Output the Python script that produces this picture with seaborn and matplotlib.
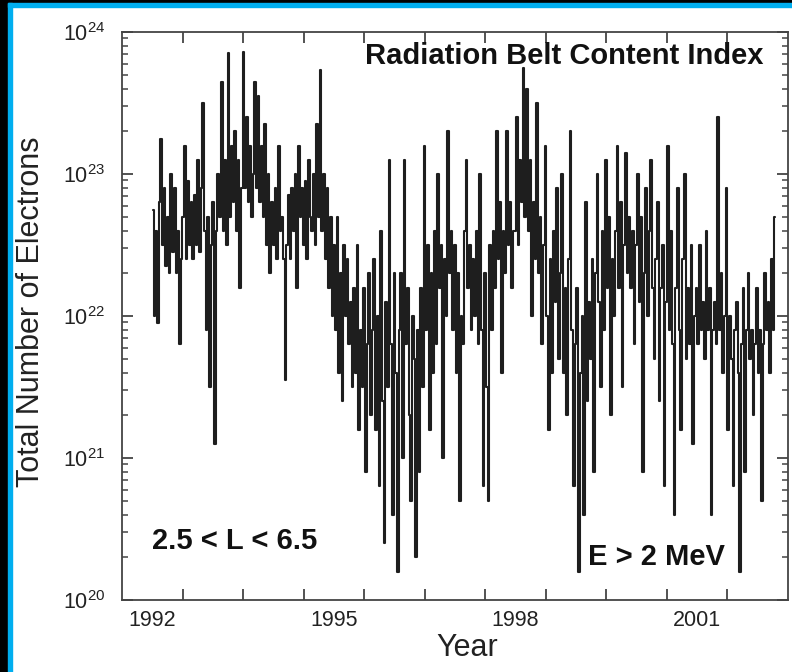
import numpy as np
import pandas as pd
import matplotlib
matplotlib.use("Agg")
import matplotlib.pyplot as plt
import seaborn as sns
from matplotlib.ticker import FixedLocator, FixedFormatter, LogLocator, NullFormatter
from matplotlib.patches import Rectangle

# ---------------- data ----------------
start_year = 1992.51
end_year = 2002.79
log10_electrons = [
    22.75, 22.0, 22.6, 21.95, 22.8, 23.25, 22.5, 22.9, 22.35, 22.7, 22.3, 23.0,
    22.45, 22.9, 22.3, 22.6, 21.8, 22.4, 22.7, 23.2, 22.4, 22.95, 22.5, 22.8,
    22.4, 22.85, 22.5, 23.1, 22.45, 22.9, 23.5, 22.6, 21.9, 22.7, 21.5, 22.5,
    22.8, 21.1, 22.6, 23.0, 22.7, 23.65, 22.6, 23.1, 22.5, 23.85, 22.7, 23.2,
    22.8, 23.3, 22.6, 23.1, 22.2, 22.9, 23.86, 22.9, 23.4, 22.8, 23.2, 22.7,
    23.0, 23.65, 22.9, 23.55, 22.8, 23.2, 22.7, 23.35, 22.5, 23.0, 22.3, 22.8,
    22.5, 22.9, 22.4, 23.2, 22.6, 22.7, 22.4, 21.55, 22.5, 22.85, 22.4, 22.9,
    22.6, 23.0, 22.2, 23.2, 22.7, 22.9, 22.5, 22.95, 22.4, 23.1, 22.7, 22.6,
    23.0, 22.5, 23.35, 22.7, 23.73, 22.6, 23.0, 22.4, 22.9, 22.2, 22.7, 22.0,
    22.5, 21.9, 22.7, 21.6, 22.3, 21.4, 22.5, 22.0, 22.4, 21.8, 22.1, 21.5,
    22.2, 21.6, 22.5, 21.2, 21.9, 21.5, 22.2, 20.9, 21.8, 22.3, 21.3, 21.9,
    22.4, 21.2, 22.0, 20.8, 22.6, 21.4, 20.4, 22.1, 21.5, 23.1, 21.8, 20.6,
    22.3, 21.6, 20.2, 21.9, 22.3, 21.0, 23.1, 21.8, 22.2, 21.3, 20.7, 22.0,
    21.7, 20.3, 21.9, 20.9, 22.2, 21.5, 23.2, 21.9, 22.5, 21.2, 22.3, 21.6,
    22.6, 21.8, 23.0, 22.2, 22.5, 21.0, 22.4, 22.0, 23.3, 22.3, 22.6, 21.9,
    22.5, 21.6, 22.3, 20.7, 22.0, 21.8, 22.6, 23.1, 22.2, 22.5, 21.9, 22.4,
    22.0, 22.6, 21.8, 23.0, 21.9, 20.8, 22.3, 21.5, 20.7, 22.5, 21.9, 22.6,
    22.2, 23.3, 22.4, 22.8, 21.6, 22.6, 22.3, 23.3, 22.5, 22.8, 22.2, 22.6,
    22.6, 23.4, 22.5, 23.1, 22.8, 23.75, 22.7, 23.6, 22.6, 23.1, 22.0, 22.8,
    22.4, 23.5, 22.3, 22.7, 21.8, 22.5, 23.2, 22.0, 21.2, 22.4, 21.6, 22.6,
    22.1, 22.9, 21.7, 22.3, 23.0, 21.6, 22.2, 21.3, 22.4, 23.3, 21.9, 20.8,
    21.8, 22.2, 20.2, 21.6, 22.0, 20.6, 22.8, 21.4, 22.1, 21.7, 22.4, 20.9,
    22.3, 23.0, 22.1, 21.5, 22.6, 21.9, 23.1, 22.2, 22.7, 21.3, 22.4, 22.0,
    22.6, 23.2, 22.2, 22.8, 21.5, 22.5, 23.15, 22.3, 22.7, 22.2, 22.6, 21.8,
    22.5, 23.0, 22.1, 22.7, 20.9, 22.3, 22.9, 22.0, 22.6, 23.1, 22.2, 21.7,
    22.4, 22.8, 21.4, 22.2, 22.5, 20.8, 22.1, 23.2, 21.9, 22.6, 21.8, 20.6,
    22.2, 22.9, 21.9, 21.2, 22.4, 23.0, 21.7, 22.2, 21.8, 22.5, 21.1, 22.0,
    22.2, 21.8, 22.5, 21.9, 22.1, 21.7, 22.6, 21.9, 22.2, 20.6, 21.9, 22.1,
    21.8, 23.4, 21.9, 22.3, 21.6, 22.0, 22.9, 21.2, 22.0, 21.7, 20.8, 21.9,
    22.1, 21.6, 20.2, 21.8, 22.2, 20.9, 21.9, 22.3, 21.7, 21.9, 21.3, 21.8,
    22.2, 21.6, 21.9, 20.7, 21.8, 22.3, 21.9, 22.1, 21.6, 22.4, 21.9, 22.7,
]

title_text = "Radiation Belt Content Index"
l_range_text = "2.5 < L < 6.5"
energy_text = "E > 2 MeV"
x_label = "Year"
y_label = "Total Number of Electrons"
year_label_pos = [1992.5, 1995.5, 1998.5, 2001.5]
year_labels = ["1992", "1995", "1998", "2001"]
year_ticks = [1993, 1994, 1995, 1996, 1997, 1998, 1999, 2000, 2001, 2002]
y_ticks = [1e20, 1e21, 1e22, 1e23, 1e24]
y_tick_labels = [r"$10^{20}$", r"$10^{21}$", r"$10^{22}$", r"$10^{23}$", r"$10^{24}$"]

# ---------------- style ----------------
sns.set_theme(style="white")
plt.rcParams["font.family"] = ["Liberation Sans", "DejaVu Sans"]
plt.rcParams["mathtext.fontset"] = "custom"
plt.rcParams["mathtext.rm"] = "Liberation Sans"
plt.rcParams["mathtext.it"] = "Liberation Sans:italic"
plt.rcParams["mathtext.bf"] = "Liberation Sans:bold"
plt.rcParams["mathtext.default"] = "rm"

W, H = 792, 672
fig = plt.figure(figsize=(W / 100, H / 100), dpi=100, facecolor="white")

# outer frame: dark strip + blue border
blue = "#00AEEF"
fig.patches.append(Rectangle((0, 0), 8 / W, 1, transform=fig.transFigure, color="black", zorder=0))
fig.patches.append(Rectangle((0, 1 - 3 / H), 1, 3 / H, transform=fig.transFigure, color="black", zorder=0))
fig.patches.append(Rectangle((8 / W, 0), 4 / W, 1 - 3 / H, transform=fig.transFigure, color=blue, zorder=1))
fig.patches.append(Rectangle((8 / W, 1 - 7 / H), 1 - 8 / W, 4 / H, transform=fig.transFigure, color=blue, zorder=1))

ax = fig.add_axes([122 / W, 1 - 600 / H, 666 / W, 568 / H])
ax.set_facecolor("white")

df = pd.DataFrame({
    "year": np.linspace(start_year, end_year, len(log10_electrons)),
    "electrons": 10.0 ** np.array(log10_electrons),
})
sns.lineplot(data=df, x="year", y="electrons", ax=ax, color="#1e1e1e",
             linewidth=1.5, drawstyle="steps-mid", estimator=None, legend=False)

ax.set_yscale("log")
ax.set_ylim(1e20, 1e24)
ax.set_xlim(1992, 2003)

# x axis: year-boundary ticks without labels, labels centred in year
ax.xaxis.set_major_locator(FixedLocator(year_ticks))
ax.xaxis.set_major_formatter(NullFormatter())
ax.xaxis.set_minor_locator(FixedLocator(year_label_pos))
ax.xaxis.set_minor_formatter(FixedFormatter(year_labels))
ax.tick_params(axis="x", which="major", direction="in", length=8, width=1.3,
               color="#444444", top=True, bottom=True)
ax.tick_params(axis="x", which="minor", length=0, pad=7, labelsize=15.5,
               labelcolor="#222222", top=False)

# y axis
ax.yaxis.set_major_locator(FixedLocator(y_ticks))
ax.yaxis.set_major_formatter(FixedFormatter(y_tick_labels))
ax.yaxis.set_minor_locator(LogLocator(base=10, subs=np.arange(2, 10)))
ax.yaxis.set_minor_formatter(NullFormatter())
ax.tick_params(axis="y", which="major", direction="in", length=8, width=1.3,
               color="#444444", left=True, right=True, pad=12, labelsize=15.5,
               labelcolor="#222222")
ax.tick_params(axis="y", which="minor", direction="in", length=4.5, width=1.1,
               color="#444444", left=True, right=True)

for s in ax.spines.values():
    s.set_color("#444444")
    s.set_linewidth(1.3)

ax.set_xlabel("")
ax.set_ylabel("")

ax.text(0.9625, 0.958, title_text, transform=ax.transAxes, ha="right", va="center",
        fontsize=21, fontweight="bold", color="#111111")
ax.text(0.045, 0.104, l_range_text, transform=ax.transAxes, ha="left", va="center",
        fontsize=21, fontweight="bold", color="#111111")
ax.text(0.6997, 0.0757, energy_text, transform=ax.transAxes, ha="left", va="center",
        fontsize=21, fontweight="bold", color="#111111")

fig.text(31 / W, 1 - 312 / H, y_label, rotation=90, ha="center", va="center",
         fontsize=22, color="#222222")
fig.text(467 / W, 1 - 648 / H, x_label, ha="center", va="center",
         fontsize=22, color="#222222")

fig.savefig("out.png", dpi=100, facecolor="white")
